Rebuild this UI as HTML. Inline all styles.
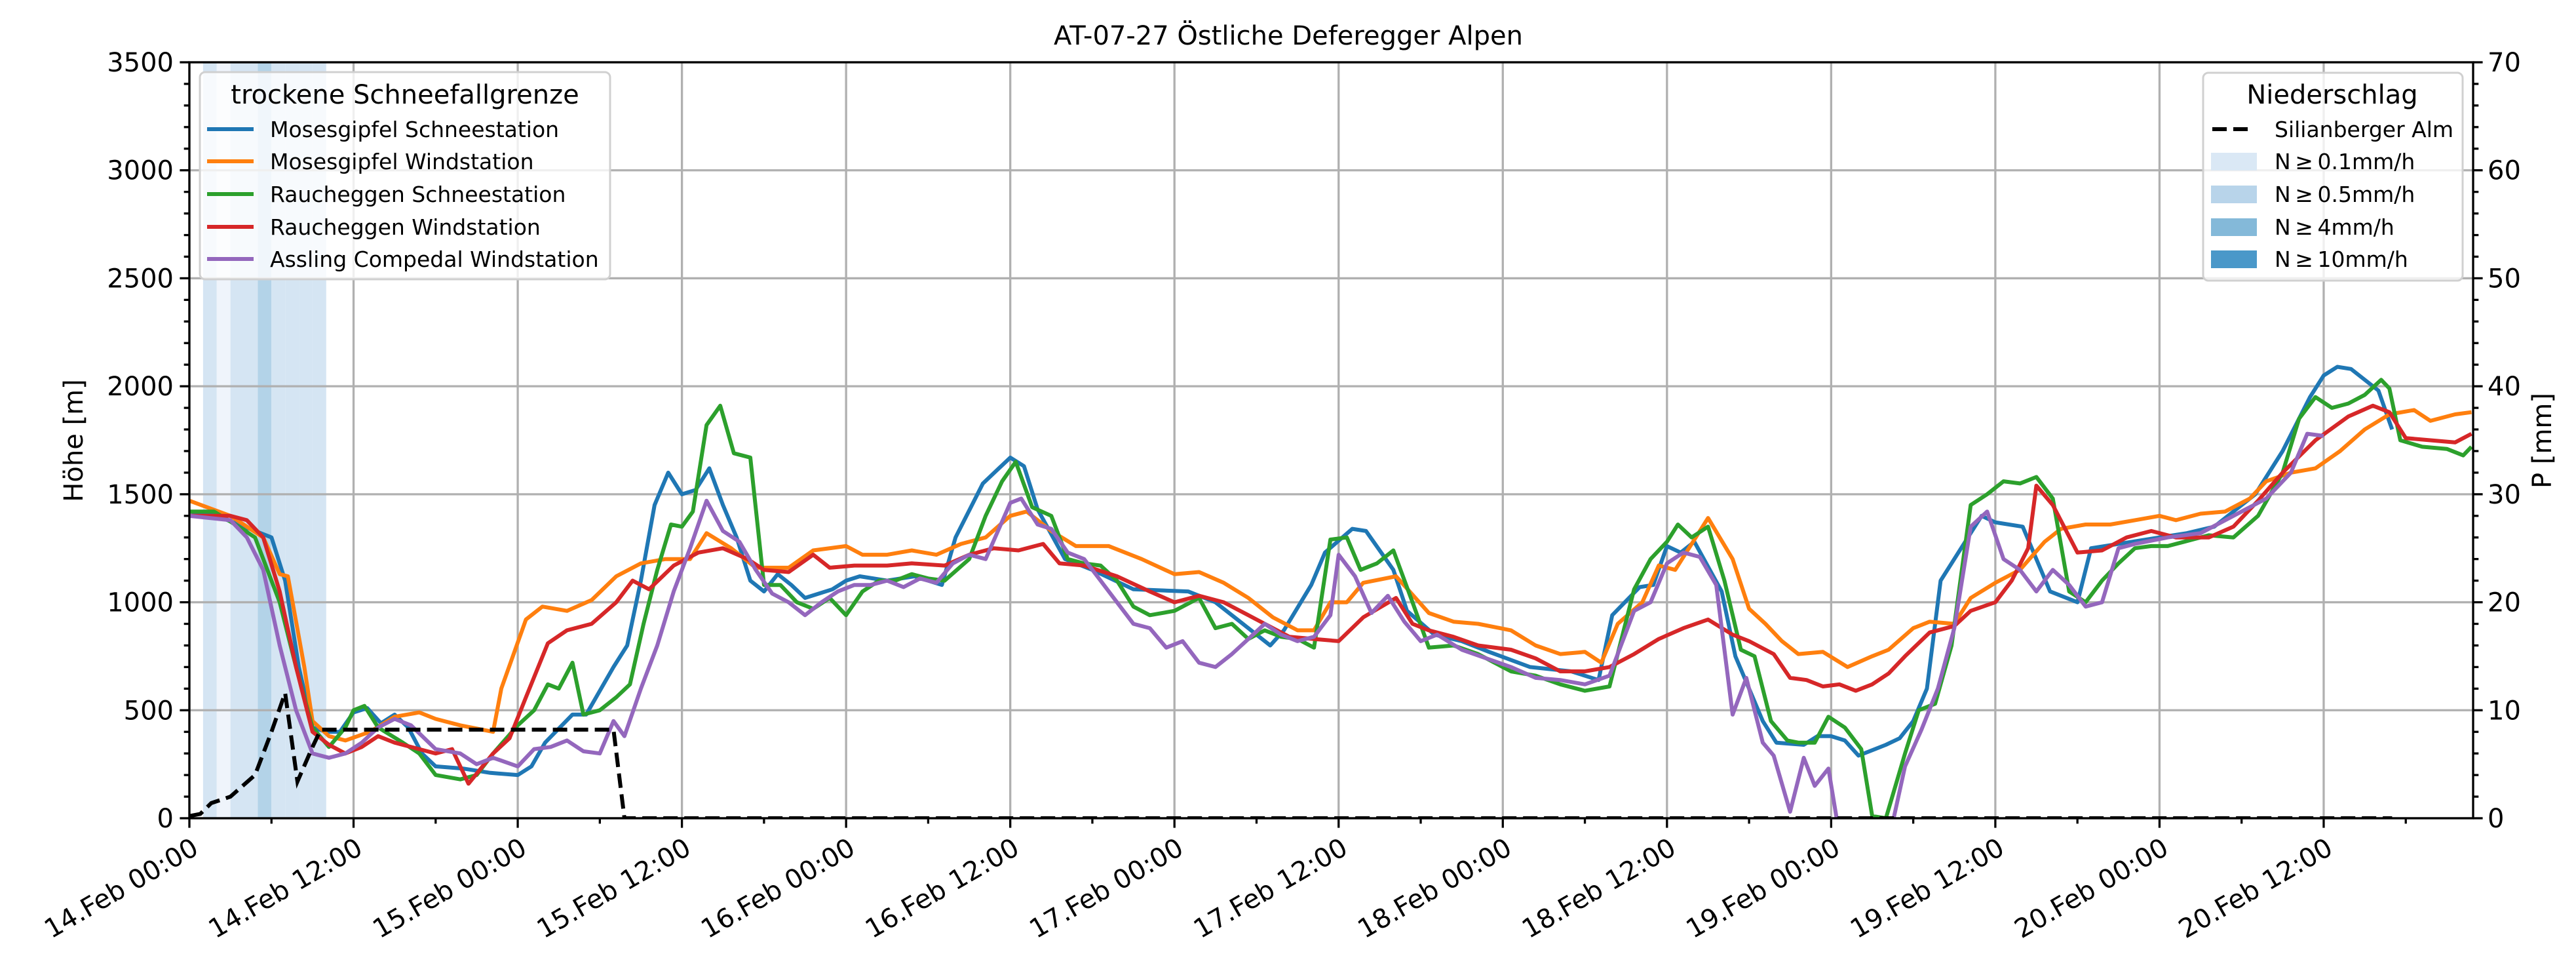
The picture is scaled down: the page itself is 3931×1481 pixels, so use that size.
<!DOCTYPE html>
<html><head><meta charset="utf-8">
<style>
html,body{margin:0;padding:0;background:#fff;}
svg{display:block;font-family:"DejaVu Sans","Liberation Sans",sans-serif;}
</style></head>
<body>
<svg id="chart" width="3931" height="1481" viewBox="0 0 3931 1481" xmlns="http://www.w3.org/2000/svg">
<defs><clipPath id="plotclip"><rect x="289" y="95" width="3485" height="1153"/></clipPath></defs>
<rect x="0" y="0" width="3931" height="1481" fill="#fff"/>
<text x="1966" y="68" font-size="40" text-anchor="middle">AT-07-27 Östliche Deferegger Alpen</text>
<g id="bands" clip-path="url(#plotclip)"></g>
<g id="grid"></g>
<g id="series" clip-path="url(#plotclip)"></g>
<g id="axes"></g>
<text transform="translate(126,672) rotate(-90)" font-size="40" text-anchor="middle">Höhe [m]</text>
<text transform="translate(3893,672) rotate(-90)" font-size="40" text-anchor="middle">P [mm]</text>
<g id="legend-left">
<rect x="305" y="110" width="626" height="316" rx="8" fill="#fff" fill-opacity="0.8" stroke="#d0d0d0" stroke-width="3"/>
<text x="618" y="158" font-size="40" text-anchor="middle">trockene Schneefallgrenze</text>
</g>
<g id="legend-right">
<rect x="3362" y="111" width="396" height="317" rx="8" fill="#fff" fill-opacity="0.8" stroke="#d0d0d0" stroke-width="3"/>
<text x="3559" y="158" font-size="40" text-anchor="middle">Niederschlag</text>
</g>
</svg>
<script>
// ---- data ----
const seriesNames = ["Mosesgipfel Schneestation","Mosesgipfel Windstation","Raucheggen Schneestation","Raucheggen Windstation","Assling Compedal Windstation"];
const seriesColors = ["#1f77b4","#ff7f0e","#2ca02c","#d62728","#9467bd"];
const xTickLabels = ["14.Feb 00:00","14.Feb 12:00","15.Feb 00:00","15.Feb 12:00","16.Feb 00:00","16.Feb 12:00","17.Feb 00:00","17.Feb 12:00","18.Feb 00:00","18.Feb 12:00","19.Feb 00:00","19.Feb 12:00","20.Feb 00:00","20.Feb 12:00"];
const yTicks = [0,500,1000,1500,2000,2500,3000,3500];
const y2Ticks = [0,10,20,30,40,50,60,70];

const blueHours = [0,2,4,6,7,8,9,10,11,12,13,14,15,16,17,18,20,22,24,25,26,28,29,31,32,33,34,35,36,37,38,39,40,41,42,43,44,45,47,48,49,51,53,55,56,58,60,61,62,64,66,69,73,75,77,79,80,82,83,85,86,88,89,91,93,95,98,101,103,104,106,107,108,109,110,112,113,114,115,116,118,119,120,121,122,124,125,126,127,128,130,131,132,134,135,136,138,139,142,144,146,148,151,153,155,156,157,158,160,161];
const blueValues = [1420,1400,1350,1300,1100,700,420,400,400,490,510,440,480,420,300,240,230,210,200,240,350,480,480,700,800,1100,1450,1600,1500,1520,1620,1450,1300,1100,1050,1130,1080,1020,1060,1100,1120,1100,1120,1080,1300,1550,1670,1630,1430,1200,1150,1060,1050,1000,900,800,870,1080,1230,1340,1330,1150,960,850,820,770,700,680,640,940,1070,1080,1260,1230,1280,1050,750,600,450,350,340,380,380,360,290,340,370,450,600,1100,1300,1400,1370,1350,1200,1050,1000,1250,1280,1300,1320,1350,1500,1700,1950,2050,2090,2080,1980,1800];

const orangeHours = [0,3,5.4,6.6,7.2,8.4,9,10.2,11.4,13.2,15,16.8,18,19.8,22.2,22.8,24.6,25.8,27.6,29.4,31.2,33,34.8,36.6,37.8,39.6,41.4,43.8,45.6,48,49.2,51,52.8,54.6,56.4,58.2,60,61.2,63,64.8,67.2,69.6,72,73.8,75.6,77.4,79.2,81,82.2,83.4,84.6,85.8,88.2,90.6,92.4,94.2,96.6,98.4,100.2,102,103.2,104.4,106.2,107.4,108.6,111,112.8,114,115.2,116.4,117.6,119.4,121.2,123,124.2,126,127.2,129,130.2,132,133.8,135.6,136.8,138.6,140.4,142.2,144,145.2,147,148.8,150.6,151.8,153.6,155.4,157.2,159,160.8,162.6,163.8,165.6,166.8];
const orangeValues = [1470,1400,1300,1130,1120,700,450,380,360,400,470,490,460,430,400,600,920,980,960,1010,1120,1180,1200,1200,1320,1250,1160,1160,1240,1260,1220,1220,1240,1220,1270,1300,1400,1420,1330,1260,1260,1200,1130,1140,1090,1020,930,870,870,1000,1000,1090,1120,950,910,900,870,800,760,770,720,900,1000,1170,1150,1390,1200,970,900,820,760,770,700,750,780,880,910,900,1020,1090,1150,1280,1340,1360,1360,1380,1400,1380,1410,1420,1480,1560,1600,1620,1700,1800,1870,1890,1840,1870,1880];

const greenHours = [0,1.8,3.6,4.8,6.6,7.8,9,10.2,11.4,12,12.8,13.8,15.6,16.8,18,19.8,21,22.2,24,25.2,26.2,27,28,28.8,30,31.2,32.2,33.2,34.2,35.2,36,36.8,37.8,38.8,39.8,41,42,43.2,44.4,45.6,46.8,48,49.2,50.4,51.6,52.8,54,55.2,57,58.2,59.4,60.4,61.6,63,64.2,65.4,66.6,67.8,69,70.2,72,73.8,75,76.2,77.4,78.6,79.8,81,82.2,83.4,84.6,85.6,86.8,88,89.4,90.6,92.4,94.2,95.4,96.6,98.4,100.2,102,103.8,105.6,106.8,108,108.8,109.8,111,112.2,113.4,114.4,115.6,116.8,117.6,118.8,119.8,121,122.2,123,124,125.4,126.4,127.6,128.8,130.2,131.4,132.6,133.8,135,136.2,137.4,138.6,139.8,141,142.2,143.4,144.6,145.8,147.6,149.4,151.2,153,154.2,155.4,156.6,157.8,159,160.2,160.8,161.6,163.2,165,166.2,166.8];
const greenValues = [1420,1420,1350,1300,1000,700,420,330,420,500,520,420,350,300,200,180,200,300,430,500,620,600,720,480,500,560,620,900,1150,1360,1350,1420,1820,1910,1690,1670,1080,1080,1000,970,1020,940,1050,1100,1100,1130,1110,1100,1200,1400,1560,1650,1440,1400,1200,1180,1170,1100,980,940,960,1020,880,900,830,870,840,830,790,1290,1300,1150,1180,1240,1000,790,800,760,720,680,660,620,590,610,1060,1200,1280,1360,1300,1350,1100,780,750,450,360,350,350,470,420,320,10,0,300,500,530,800,1450,1500,1560,1550,1580,1480,1050,1000,1100,1180,1250,1260,1260,1280,1310,1300,1400,1600,1850,1950,1900,1920,1960,2030,1990,1750,1720,1710,1680,1720];

const redHours = [0,3,4.2,5.4,6.6,7.8,9,10.2,11.4,12.6,13.8,15,16.8,18,19.2,20.4,22.2,23.4,24.6,26.2,27.6,29.4,31.2,32.4,33.6,35.4,37.2,39,40.8,42,43.8,45.6,46.8,48.6,51,52.8,55.2,57,58.8,60.6,62.4,63.6,65.4,67.8,70.2,72,73.8,75.6,77.4,78.6,80.4,82.2,84,85.8,88.2,89.4,90.6,92.4,94.2,96.6,98.4,100.2,102,103.8,105.6,107.4,109.2,111,112.8,114,115.8,117,118.2,119.4,120.6,121.8,123,124.2,125.4,127.2,129,130.2,132,133.2,134.4,135,136.2,138,139.8,141.6,143.4,145.2,147.6,149.4,151.2,153,155.4,157.8,159.6,160.8,162,163.8,165.6,166.8];
const redValues = [1400,1400,1380,1300,1050,700,400,340,300,330,380,350,320,300,320,160,300,370,560,810,870,900,1000,1100,1060,1170,1230,1250,1200,1150,1140,1220,1160,1170,1170,1180,1170,1220,1250,1240,1270,1180,1170,1120,1050,1000,1030,1000,940,900,840,830,820,930,1020,900,870,840,800,780,740,680,680,700,760,830,880,920,850,820,760,650,640,610,620,590,620,670,750,860,890,960,1000,1100,1250,1540,1450,1230,1240,1300,1330,1300,1300,1350,1470,1600,1750,1860,1910,1880,1760,1750,1740,1780];

const purpleHours = [0,3,4.2,5.4,6.6,7.8,9,10.2,11.4,12.6,13.8,15,16.2,18,19.8,21,22.2,24,25.2,26.4,27.6,28.8,30,31,31.8,33,34.2,35.4,36.6,37.8,39,40.2,41.4,42.6,43.8,45,46.2,47.4,48.6,49.8,51,52.2,53.4,54.6,55.8,57,58.2,60,60.8,62,63,64.2,65.4,66.6,67.8,69,70.2,71.4,72.6,73.8,75,76.2,77.4,78.6,79.8,81,82.2,83.4,84,85.2,86.4,87.6,88.8,90,91.2,93,94.8,96.6,98.4,100.2,102,103.8,105.6,106.8,108,109.2,110.4,111.6,112.8,113.8,115,115.8,117,118,118.8,119.8,120.4,121.8,123.6,124.5,125.4,126.6,127.8,129,130.2,131.4,132.6,133.8,135,136.2,137.4,138.6,139.8,141,142.2,144.6,147,149.4,151.8,153.6,154.8,156];
const purpleValues = [1400,1380,1300,1150,800,500,300,280,300,350,420,460,430,320,300,250,280,240,320,330,360,310,300,450,380,600,800,1050,1250,1470,1330,1280,1150,1040,1000,940,1000,1050,1080,1080,1100,1070,1110,1090,1180,1220,1200,1460,1480,1360,1340,1230,1200,1100,1000,900,880,790,820,720,700,760,830,900,850,820,840,940,1220,1120,950,1030,910,820,850,780,740,700,650,640,620,660,960,1000,1180,1230,1210,1080,480,650,350,290,30,280,150,230,0,-400,-400,-20,240,410,600,880,1350,1420,1200,1150,1050,1150,1080,980,1000,1250,1270,1300,1320,1400,1480,1600,1780,1770];

const precipHours = [0,0.8,1.6,3,4.8,6,7,7.9,9,9.6,31,31.8,161];
const precipValues = [0.2,0.4,1.4,2,4,8,11.6,3.4,6.6,8.2,8.2,0,0];

const bandHours = [1,2,3,4,5,6,7,8,9];
const bandLevels = [1,0,1,1,2,1,1,1,1];
const bandColors = ["#eff4fb","#d5e5f3","#b3d3e8","#84b9d9","#4a98c9"];

// ---- scales ----
const L=289,R=3774,T=95,B=1248;
const xS = h => L + h*20.878;
const yS = v => B - v*(B-T)/3500;
const y2S = p => B - p*(B-T)/70;
const NS="http://www.w3.org/2000/svg";
function mk(tag, attrs, parent){const e=document.createElementNS(NS,tag);for(const k in attrs)e.setAttribute(k,attrs[k]);parent.appendChild(e);return e;}

// bands
const gb=document.getElementById('bands');
bandHours.forEach((h,i)=>{
  const r=mk('rect',{x:xS(h),y:T,width:xS(h+1)-xS(h),height:B-T,fill:bandColors[bandLevels[i]]},gb);
  
  
});

// grid
const gg=document.getElementById('grid');
xTickLabels.forEach((lab,i)=>{
  const x=xS(i*12);
  const l=mk('line',{x1:x,x2:x,y1:T,y2:B,stroke:'#b0b0b0','stroke-width':3.3},gg);
  
  
});
yTicks.forEach(v=>{
  const y=yS(v);
  const l=mk('line',{x1:L,x2:R,y1:y,y2:y,stroke:'#b0b0b0','stroke-width':3.3},gg);
  
  
});

// series
const gs=document.getElementById('series');
function line(hours, vals, color, name){
  const pts=hours.map((h,i)=>xS(h).toFixed(1)+','+yS(vals[i]).toFixed(1)).join(' ');
  const p=mk('polyline',{points:pts,fill:'none',stroke:color,'stroke-width':6,'stroke-linejoin':'round'},gs);
  
  
}
line(blueHours,blueValues,seriesColors[0],'series-mosesgipfel-schneestation');
line(orangeHours,orangeValues,seriesColors[1],'series-mosesgipfel-windstation');
line(greenHours,greenValues,seriesColors[2],'series-raucheggen-schneestation');
line(redHours,redValues,seriesColors[3],'series-raucheggen-windstation');
line(purpleHours,purpleValues,seriesColors[4],'series-assling-compedal-windstation');
{
  const pts=precipHours.map((h,i)=>xS(h).toFixed(1)+','+y2S(precipValues[i]).toFixed(1)).join(' ');
  const p=mk('polyline',{points:pts,fill:'none',stroke:'#000','stroke-width':6,'stroke-dasharray':'22,10'},gs);
  
  
}

// axes
const ga=document.getElementById('axes');
const frame=mk('rect',{x:L,y:T,width:R-L,height:B-T,fill:'none',stroke:'#000','stroke-width':3.3},ga);


for(let h=0;h<=166;h+=6){
  const major=h%12===0;
  mk('line',{x1:xS(h),x2:xS(h),y1:B,y2:B+(major?14.6:8.3),stroke:'#000','stroke-width':3.3},ga);
}
xTickLabels.forEach((lab,i)=>{
  const x=xS(i*12);
  const t=mk('text',{transform:`translate(${x+2},${B+28}) rotate(-30)`,'font-size':40,'text-anchor':'end','dominant-baseline':'hanging'},ga);
  t.textContent=lab;
  
  
});
for(let v=0;v<=3500;v+=100){
  const major=v%500===0;
  mk('line',{x1:L,x2:L-(major?14.6:8.3),y1:yS(v),y2:yS(v),stroke:'#000','stroke-width':3.3},ga);
}
yTicks.forEach(v=>{
  const t=mk('text',{x:L-24,y:yS(v)+14,'font-size':40,'text-anchor':'end'},ga);
  t.textContent=v;
  
  
});
for(let p=0;p<=70;p+=2){
  const major=p%10===0;
  mk('line',{x1:R,x2:R+(major?14.6:8.3),y1:y2S(p),y2:y2S(p),stroke:'#000','stroke-width':3.3},ga);
}
y2Ticks.forEach(p=>{
  const t=mk('text',{x:R+22,y:y2S(p)+14,'font-size':40,'text-anchor':'start'},ga);
  t.textContent=p;
  
  
});

// legends
const ll=document.getElementById('legend-left');
const rowsY=[197,246,296,346,395];
seriesNames.forEach((n,i)=>{
  const g=mk('g',{},ll);
  
  
  mk('line',{x1:316,x2:387,y1:rowsY[i],y2:rowsY[i],stroke:seriesColors[i],'stroke-width':6},g);
  const t=mk('text',{x:412,y:rowsY[i]+12,'font-size':33},g);
  t.textContent=n;
});
const lr=document.getElementById('legend-right');
{
  const g=mk('g',{},lr);
  
  
  mk('line',{x1:3376,x2:3433,y1:197,y2:197,stroke:'#000','stroke-width':6,'stroke-dasharray':'22,10'},g);
  const t=mk('text',{x:3471,y:209,'font-size':33},g);
  t.textContent='Silianberger Alm';
}
const precipLabels=["N\u2009\u2265\u20090.1mm/h","N\u2009\u2265\u20090.5mm/h","N\u2009\u2265\u20094mm/h","N\u2009\u2265\u200910mm/h"];
const patchCols=["#dae8f5","#b8d4ea","#84b9d9","#4a98c9"];
precipLabels.forEach((lab,i)=>{
  const g=mk('g',{},lr);
  
  
  const y=rowsY[i+1];
  mk('rect',{x:3374,y:y-13,width:70,height:27,fill:patchCols[i]},g);
  const t=mk('text',{x:3471,y:y+12,'font-size':33},g);
  t.textContent=lab;
});
</script>
</body></html>
